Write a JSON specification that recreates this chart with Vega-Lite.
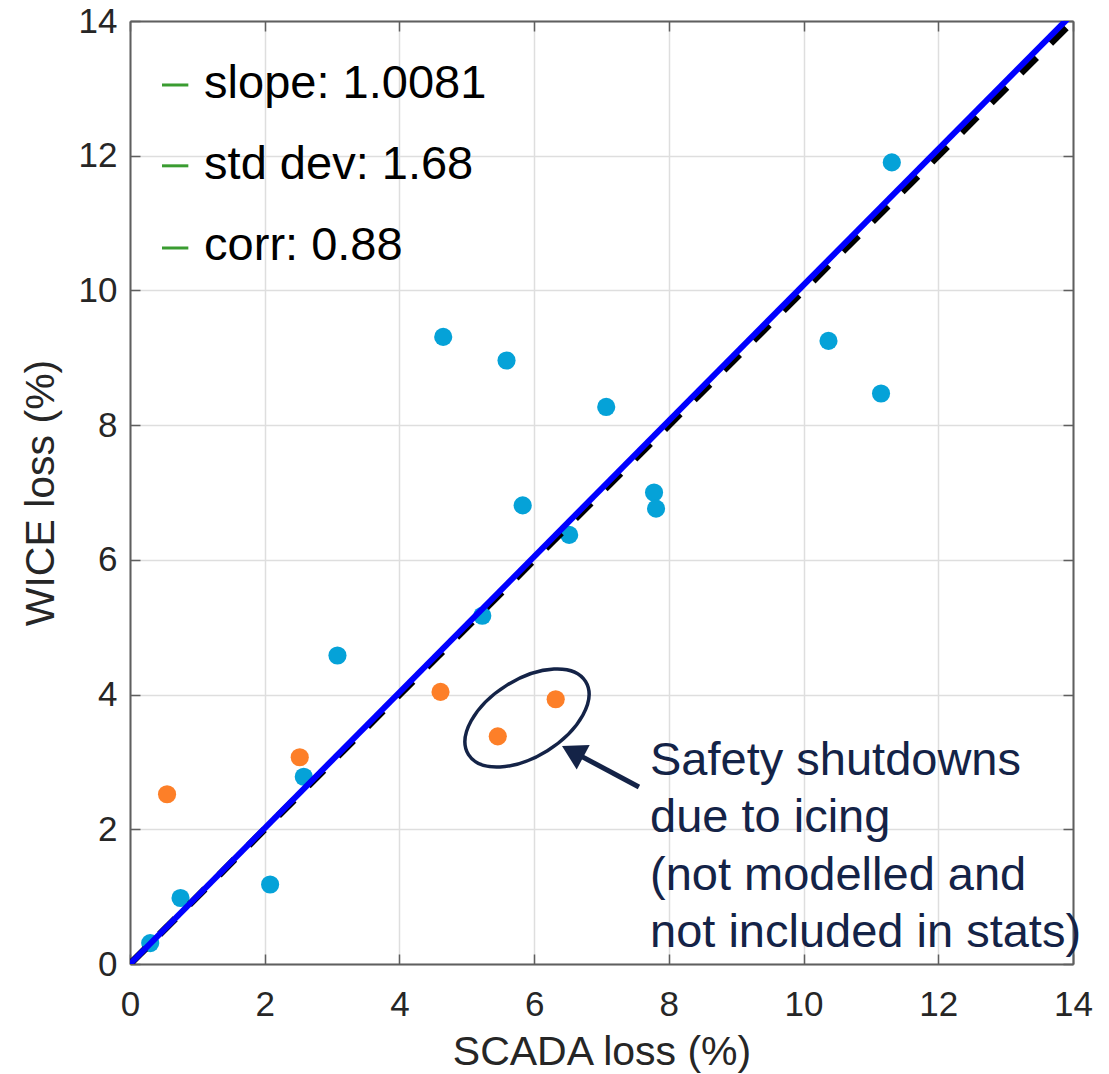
{
  "$schema": "https://vega.github.io/schema/vega-lite/v6.json",
  "width": 943,
  "height": 943,
  "autosize": {"type": "none"},
  "padding": {"left": 130, "top": 21, "right": 36, "bottom": 110},
  "background": "white",
  "config": {"view": {"stroke": null}, "font": "Liberation Sans"},
  "datasets": {
    "wind": [
      {"scada": 0.30, "wice": 0.31, "group": "included"},
      {"scada": 0.75, "wice": 0.98, "group": "included"},
      {"scada": 2.08, "wice": 1.18, "group": "included"},
      {"scada": 2.58, "wice": 2.78, "group": "included"},
      {"scada": 3.08, "wice": 4.58, "group": "included"},
      {"scada": 4.65, "wice": 9.31, "group": "included"},
      {"scada": 5.23, "wice": 5.17, "group": "included"},
      {"scada": 5.59, "wice": 8.96, "group": "included"},
      {"scada": 5.83, "wice": 6.81, "group": "included"},
      {"scada": 6.52, "wice": 6.37, "group": "included"},
      {"scada": 7.07, "wice": 8.27, "group": "included"},
      {"scada": 7.78, "wice": 7.00, "group": "included"},
      {"scada": 7.81, "wice": 6.76, "group": "included"},
      {"scada": 10.37, "wice": 9.25, "group": "included"},
      {"scada": 11.15, "wice": 8.47, "group": "included"},
      {"scada": 11.31, "wice": 11.90, "group": "included"},
      {"scada": 0.55, "wice": 2.52, "group": "excluded"},
      {"scada": 2.52, "wice": 3.07, "group": "excluded"},
      {"scada": 4.61, "wice": 4.04, "group": "excluded"},
      {"scada": 5.46, "wice": 3.38, "group": "excluded"},
      {"scada": 6.32, "wice": 3.93, "group": "excluded"}
    ],
    "fit": [{"scada": 0, "wice": 0}, {"scada": 14, "wice": 14.1134}],
    "identity": [{"scada": 0, "wice": 0}, {"scada": 14, "wice": 14}],
    "one": [{}]
  },
  "resolve": {"axis": {"x": "independent", "y": "independent"}},
  "layer": [
    {
      "data": {"name": "wind"},
      "mark": {"type": "circle", "size": 330, "opacity": 1},
      "encoding": {
        "x": {
          "field": "scada", "type": "quantitative",
          "scale": {"domain": [0, 14], "nice": false, "zero": false},
          "axis": {
            "values": [0, 2, 4, 6, 8, 10, 12, 14],
            "title": "SCADA loss (%)",
            "titleFontSize": 41, "titleFontWeight": "normal", "titleColor": "#262626",
            "titleBaseline": "top", "titleY": 68,
            "labelFontSize": 35, "labelColor": "#262626", "labelPadding": 33,
            "labelFlush": false,
            "tickSize": -10, "tickColor": "#5f5f5f", "tickWidth": 1.5,
            "domainColor": "#5f5f5f", "domainWidth": 2,
            "grid": true, "gridColor": "#dedede", "gridWidth": 1.5
          }
        },
        "y": {
          "field": "wice", "type": "quantitative",
          "scale": {"domain": [0, 14], "nice": false, "zero": false},
          "axis": {
            "values": [0, 2, 4, 6, 8, 10, 12, 14],
            "title": "WICE loss (%)",
            "titleFontSize": 41, "titleFontWeight": "normal", "titleColor": "#262626",
            "titleBaseline": "middle", "titleX": -89,
            "labelFontSize": 35, "labelColor": "#262626", "labelPadding": 23,
            "labelFlush": false,
            "tickSize": -10, "tickColor": "#5f5f5f", "tickWidth": 1.5,
            "domainColor": "#5f5f5f", "domainWidth": 2,
            "grid": true, "gridColor": "#dedede", "gridWidth": 1.5
          }
        },
        "color": {
          "field": "group", "type": "nominal",
          "scale": {"domain": ["included", "excluded"], "range": ["#05a2d8", "#fd7f28"]},
          "legend": null
        }
      }
    },
    {
      "data": {"name": "identity"},
      "mark": {"type": "line", "color": "#000000", "strokeWidth": 7, "strokeDash": [22, 20], "clip": true},
      "encoding": {
        "x": {"field": "scada", "type": "quantitative", "scale": {"domain": [0, 14], "nice": false, "zero": false}, "axis": null},
        "y": {"field": "wice", "type": "quantitative", "scale": {"domain": [0, 14], "nice": false, "zero": false}, "axis": null}
      }
    },
    {
      "data": {"name": "fit"},
      "mark": {"type": "line", "color": "#0000ff", "strokeWidth": 6, "clip": true},
      "encoding": {
        "x": {
          "field": "scada", "type": "quantitative",
          "scale": {"domain": [0, 14], "nice": false, "zero": false},
          "axis": {
            "orient": "top", "values": [0, 2, 4, 6, 8, 10, 12, 14], "labels": false, "title": null,
            "tickSize": -10, "tickColor": "#5f5f5f", "tickWidth": 1.5,
            "domainColor": "#5f5f5f", "domainWidth": 2, "grid": false
          }
        },
        "y": {
          "field": "wice", "type": "quantitative",
          "scale": {"domain": [0, 14], "nice": false, "zero": false},
          "axis": {
            "orient": "right", "values": [0, 2, 4, 6, 8, 10, 12, 14], "labels": false, "title": null,
            "tickSize": -10, "tickColor": "#5f5f5f", "tickWidth": 1.5,
            "domainColor": "#5f5f5f", "domainWidth": 2, "grid": false
          }
        }
      }
    },
    {
      "data": {"name": "one"},
      "mark": {"type": "rule", "color": "#3a9c31", "strokeWidth": 3},
      "encoding": {"x": {"datum": 0.475, "type": "quantitative", "axis": null}, "x2": {"datum": 0.866}, "y": {"datum": 13.05, "type": "quantitative", "axis": null}}
    },
    {
      "data": {"name": "one"},
      "mark": {"type": "rule", "color": "#3a9c31", "strokeWidth": 3},
      "encoding": {"x": {"datum": 0.475, "type": "quantitative", "axis": null}, "x2": {"datum": 0.866}, "y": {"datum": 11.85, "type": "quantitative", "axis": null}}
    },
    {
      "data": {"name": "one"},
      "mark": {"type": "rule", "color": "#3a9c31", "strokeWidth": 3},
      "encoding": {"x": {"datum": 0.475, "type": "quantitative", "axis": null}, "x2": {"datum": 0.866}, "y": {"datum": 10.63, "type": "quantitative", "axis": null}}
    },
    {
      "data": {"name": "one"},
      "mark": {"type": "text", "text": "slope: 1.0081", "align": "left", "baseline": "alphabetic", "fontSize": 47, "color": "#000000"},
      "encoding": {"x": {"datum": 1.10, "type": "quantitative", "axis": null}, "y": {"datum": 12.85, "type": "quantitative", "axis": null}}
    },
    {
      "data": {"name": "one"},
      "mark": {"type": "text", "text": "std dev: 1.68", "align": "left", "baseline": "alphabetic", "fontSize": 47, "color": "#000000"},
      "encoding": {"x": {"datum": 1.10, "type": "quantitative", "axis": null}, "y": {"datum": 11.65, "type": "quantitative", "axis": null}}
    },
    {
      "data": {"name": "one"},
      "mark": {"type": "text", "text": "corr: 0.88", "align": "left", "baseline": "alphabetic", "fontSize": 47, "color": "#000000"},
      "encoding": {"x": {"datum": 1.10, "type": "quantitative", "axis": null}, "y": {"datum": 10.45, "type": "quantitative", "axis": null}}
    },
    {
      "data": {"name": "one"},
      "mark": {
        "type": "point",
        "shape": "M 1 0 C 1 0.3082 0.5523 0.558 0 0.558 C -0.5523 0.558 -1 0.3082 -1 0 C -1 -0.3082 -0.5523 -0.558 0 -0.558 C 0.5523 -0.558 1 -0.3082 1 0 Z",
        "size": 19044, "angle": 328, "filled": false, "stroke": "#142347", "strokeWidth": 3.5, "opacity": 1
      },
      "encoding": {"x": {"datum": 5.894, "type": "quantitative", "axis": null}, "y": {"datum": 3.652, "type": "quantitative", "axis": null}}
    },
    {
      "data": {"name": "one"},
      "mark": {"type": "rule", "color": "#142347", "strokeWidth": 5},
      "encoding": {
        "x": {"datum": 7.556, "type": "quantitative", "axis": null}, "x2": {"datum": 6.571},
        "y": {"datum": 2.628, "type": "quantitative", "axis": null}, "y2": {"datum": 3.153}
      }
    },
    {
      "data": {"name": "one"},
      "mark": {"type": "point", "shape": "triangle-up", "size": 768, "angle": 298, "filled": true, "color": "#142347", "opacity": 1},
      "encoding": {"x": {"datum": 6.571, "type": "quantitative", "axis": null}, "y": {"datum": 3.153, "type": "quantitative", "axis": null}}
    },
    {
      "data": {"name": "one"},
      "mark": {
        "type": "text",
        "text": ["Safety shutdowns", "due to icing", "(not modelled and", "not included in stats)"],
        "align": "left", "baseline": "alphabetic", "fontSize": 47, "lineHeight": 57.3, "color": "#142347"
      },
      "encoding": {"x": {"datum": 7.72, "type": "quantitative", "axis": null}, "y": {"datum": 2.806, "type": "quantitative", "axis": null}}
    }
  ]
}
